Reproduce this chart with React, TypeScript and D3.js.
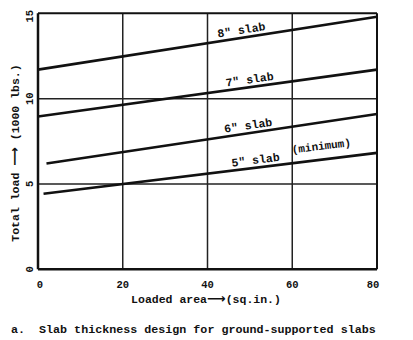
import React from "react";
import * as d3 from "d3";

const slabLabels = ['8" slab', '7" slab', '6" slab', '5" slab'];
const xStart = [0, 0, 2, 1.3];
const yStart = [11.7, 8.95, 6.2, 4.43];
const xEnd = [80, 80, 80, 80];
const yEnd = [14.8, 11.7, 9.1, 6.82];
const labelX = [42.5, 44.4, 44.1, 45.8];
const noteText = "(minimum)";
const noteX = 60;
const xTicks = [0, 20, 40, 60, 80];
const yTicks = [0, 5, 10, 15];
const xTitleA = "Loaded area";
const xTitleB = "(sq.in.)";
const yTitleA = "Total load ";
const yTitleB = " (1000 lbs.)";
const arrow = "\u27F6";
const caption = "a.  Slab thickness design for ground-supported slabs";

const W = 413;
const H = 340;
const FONT = "'Liberation Mono', 'DejaVu Sans Mono', monospace";
const ARROW_FONT = "'DejaVu Sans', sans-serif";

export default function App() {
  const x = d3.scaleLinear().domain([0, 80]).range([38, 377]);
  const y = d3.scaleLinear().domain([0, 15]).range([269.3, 13.3]);
  const line = d3
    .line<[number, number]>()
    .x((d) => x(d[0]))
    .y((d) => y(d[1]));
  const valAt = (i: number, v: number) =>
    yStart[i] + ((yEnd[i] - yStart[i]) * (v - xStart[i])) / (xEnd[i] - xStart[i]);
  const angleOf = (i: number) => {
    const dx = x(xEnd[i]) - x(xStart[i]);
    const dy = y(yEnd[i]) - y(yStart[i]);
    return (Math.atan2(dy, dx) * 180) / Math.PI;
  };

  return (
    <svg
      width={W}
      height={H}
      style={{ position: "absolute", left: 0, top: 0, background: "#fff" }}
      fontFamily={FONT}
    >
      <rect x={0} y={0} width={W} height={H} fill="#fff" />
      {/* grid */}
      {xTicks.slice(1, -1).map((t) => (
        <line key={"gx" + t} x1={x(t)} x2={x(t)} y1={y(15)} y2={y(0)} stroke="#222" strokeWidth={1.5} />
      ))}
      {yTicks.slice(1, -1).map((t) => (
        <line key={"gy" + t} x1={x(0)} x2={x(80)} y1={y(t)} y2={y(t)} stroke="#222" strokeWidth={1.5} />
      ))}
      {/* frame */}
      <line x1={x(0)} x2={x(80)} y1={y(15)} y2={y(15)} stroke="#111" strokeWidth={2} />
      <line x1={x(80)} x2={x(80)} y1={y(15)} y2={y(0)} stroke="#111" strokeWidth={2} />
      <line x1={x(0)} x2={x(0)} y1={y(15)} y2={y(0)} stroke="#111" strokeWidth={2.5} />
      <line x1={x(0)} x2={x(80)} y1={y(0)} y2={y(0)} stroke="#111" strokeWidth={2.5} />
      {/* data lines */}
      {slabLabels.map((s, i) => (
        <path
          key={s}
          d={line([
            [xStart[i], yStart[i]],
            [xEnd[i], yEnd[i]],
          ]) as string}
          stroke="#111"
          strokeWidth={2.6}
          fill="none"
        />
      ))}
      {/* line labels */}
      {slabLabels.map((s, i) => {
        const px = x(labelX[i]);
        const py = y(valAt(i, labelX[i])) - 4;
        return (
          <text
            key={"l" + s}
            x={px}
            y={py}
            fontSize={11.5}
            fontWeight="bold"
            fill="#111"
            transform={`rotate(${angleOf(i)},${px},${py})`}
          >
            {s}
          </text>
        );
      })}
      {(() => {
        const px = x(noteX);
        const py = y(valAt(3, noteX)) - 10;
        return (
          <text
            x={px}
            y={py}
            fontSize={11}
            fontWeight="bold"
            fill="#111"
            transform={`rotate(${angleOf(3)},${px},${py})`}
          >
            {noteText}
          </text>
        );
      })()}
      {/* x ticks */}
      {xTicks.map((t) => (
        <text
          key={"xt" + t}
          x={x(t) + (t === 0 ? 2 : t === 80 ? -4 : 0)}
          y={288}
          textAnchor="middle"
          fontSize={10.5}
          fontWeight="bold"
          fill="#111"
        >
          {t}
        </text>
      ))}
      {/* y ticks */}
      {yTicks.map((t) => {
        const px = 33;
        const py = y(t) + (t === 15 ? 3 : 0);
        return (
          <text
            key={"yt" + t}
            x={px}
            y={py}
            textAnchor="middle"
            fontSize={10.5}
            fontWeight="bold"
            fill="#111"
            transform={`rotate(-90,${px},${py})`}
          >
            {t}
          </text>
        );
      })}
      {/* axis titles */}
      <text x={206} y={303} textAnchor="middle" fontSize={11.5} fontWeight="bold" fill="#111">
        {xTitleA}
        <tspan fontFamily={ARROW_FONT} fontSize={13}>{arrow}</tspan>
        {xTitleB}
      </text>
      <text
        x={19}
        y={153}
        textAnchor="middle"
        fontSize={11.5}
        fontWeight="bold"
        fill="#111"
        transform="rotate(-90,19,153)"
        style={{ whiteSpace: "pre" }}
      >
        {yTitleA}
        <tspan fontFamily={ARROW_FONT} fontSize={13}>{arrow}</tspan>
        {yTitleB}
      </text>
      <text x={11} y={333} fontSize={11.7} fontWeight="bold" fill="#111" style={{ whiteSpace: "pre" }}>
        {caption}
      </text>
    </svg>
  );
}
